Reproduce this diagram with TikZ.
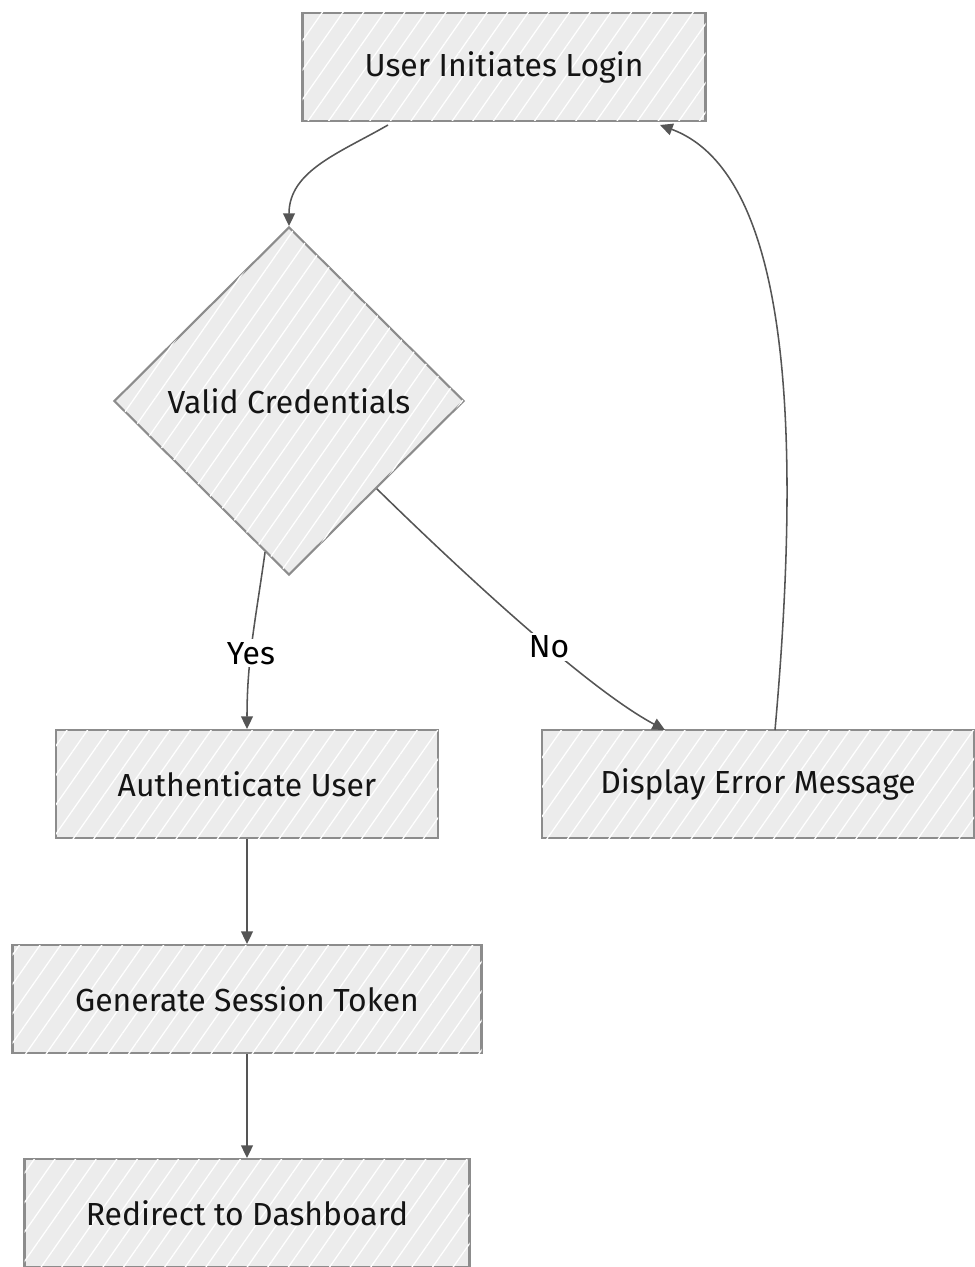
\documentclass[tikz,border=0pt]{standalone}
\usepackage{fontspec}
\setmainfont{Fira Sans}
\usetikzlibrary{positioning, arrows.meta, shapes.geometric, patterns.meta}
\definecolor{boxfill}{HTML}{ECECEC}
\definecolor{boxline}{HTML}{8C8C8C}
\definecolor{flowline}{HTML}{555555}

\tikzset{
  sketch/.style={draw=boxline, line width=1.5pt, fill=boxfill,
    postaction={pattern={Lines[angle=55,distance=12pt,line width=0.9pt]}, pattern color=white},
    font=\fontsize{22.7}{27}\selectfont, text=black!92, inner sep=0pt},
  stepbox/.style={sketch, rectangle, minimum height={108*0.025cm}},
  decision/.style={sketch, diamond, aspect=1, minimum width={350*0.025cm}, minimum height={348*0.025cm}},
  flow/.style={draw=flowline, line width=1.1pt, -{Triangle[length=9pt,width=8.5pt]}},
  answer/.style={fill=white, font=\fontsize{22.7}{27}\selectfont, text=black, inner sep=2pt}
}

\begin{document}
\begin{tikzpicture}[x=0.025cm, y=-0.025cm]
    \useasboundingbox (0,0) rectangle (974,1267);
    % steps
    \node[stepbox, minimum width={403*0.025cm}] (login) at (504,67) {User Initiates Login};
    \node[decision] (valid) at (289,401) {Valid Credentials};
    \node[stepbox, minimum width={382*0.025cm}] (auth) at (247,784) {Authenticate User};
    \node[stepbox, minimum width={432*0.025cm}] (error) at (758,784) {Display Error Message};
    \node[stepbox, minimum width={469*0.025cm}] (token) at (247,999) {Generate Session Token};
    \node[stepbox, minimum width={445*0.025cm}] (redirect) at (247,1213) {Redirect to Dashboard};
    % connectors
    \coordinate (loginout) at (388,125);
    \coordinate (loginin) at (660,125);
    \coordinate (errorout) at (775,730);
    \coordinate (errorin) at (665,730);
    \draw[flow] (loginout) to[out=-150, in=90] (valid.north);
    \draw[flow] (valid.-99) to[out=-98, in=90]
      node[answer, pos=0.58] {Yes} (auth.north);
    \draw[flow] (valid.-45) .. controls (470,580) and (590,690) .. (errorin)
      node[answer, pos=0.57] {No};
    \draw[flow] (errorout) .. controls (800,450) and (795,175) .. (loginin);
    \draw[flow] (auth) -- (token);
    \draw[flow] (token) -- (redirect);
\end{tikzpicture}
\end{document}
